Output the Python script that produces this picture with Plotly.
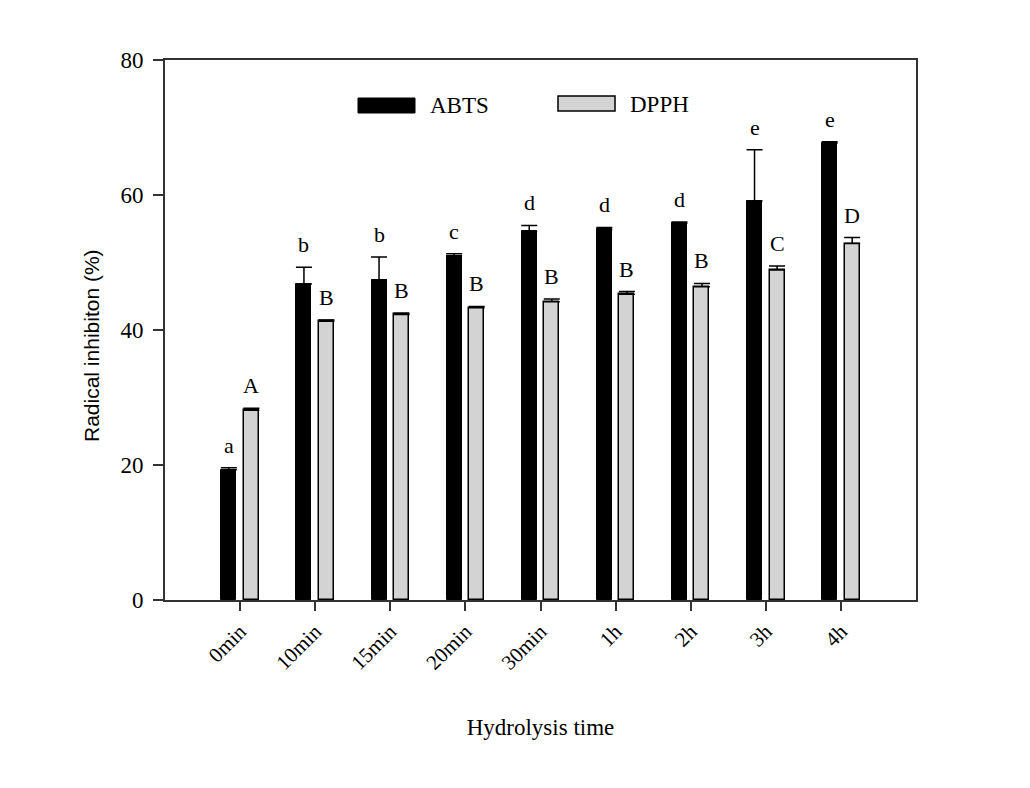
import plotly.graph_objects as go

categories = ["0min", "10min", "15min", "20min", "30min", "1h", "2h", "3h", "4h"]
abts = [19.3, 46.8, 47.4, 51.0, 54.6, 54.9, 55.8, 59.1, 67.7]
abts_err = [0.3, 2.5, 3.4, 0.3, 0.9, 0.3, 0.2, 7.6, 0.2]
dpph = [28.1, 41.3, 42.3, 43.3, 44.2, 45.3, 46.4, 48.9, 52.8]
dpph_err = [0.3, 0.2, 0.2, 0.2, 0.4, 0.4, 0.5, 0.6, 0.9]
abts_letters = ["a", "b", "b", "c", "d", "d", "d", "e", "e"]
dpph_letters = ["A", "B", "B", "B", "B", "B", "B", "C", "D"]

serif = "Liberation Serif"
sans = "Liberation Sans"

x_idx = list(range(len(categories)))

fig = go.Figure()
fig.add_trace(go.Bar(
    x=x_idx, y=abts, width=0.2, offset=-0.25, name="ABTS",
    marker=dict(color="black", line=dict(color="black", width=1)),
    error_y=dict(type="data", array=abts_err, arrayminus=[0]*len(abts), symmetric=False,
                 color="black", thickness=1.5, width=8),
    showlegend=False,
))
fig.add_trace(go.Bar(
    x=x_idx, y=dpph, width=0.2, offset=0.05, name="DPPH",
    marker=dict(color="#d3d3d3", line=dict(color="black", width=1.5)),
    error_y=dict(type="data", array=dpph_err, arrayminus=[0]*len(dpph), symmetric=False,
                 color="black", thickness=1.5, width=8),
    showlegend=False,
))

annotations = []
for i in x_idx:
    annotations.append(dict(x=i - 0.15, y=abts[i] + abts_err[i], text=abts_letters[i],
                            xref="x", yref="y", showarrow=False, yanchor="bottom",
                            yshift=8, font=dict(family=serif, size=22, color="black")))
    annotations.append(dict(x=i + 0.15, y=dpph[i] + dpph_err[i], text=dpph_letters[i],
                            xref="x", yref="y", showarrow=False, yanchor="bottom",
                            yshift=8, font=dict(family=serif, size=22, color="black")))

# legend (manual)
shapes = [
    dict(type="rect", xref="paper", yref="paper", x0=(358-165)/751, x1=(415-165)/751,
         y0=(600-113)/540, y1=(600-98)/540, fillcolor="black", line=dict(color="black", width=1)),
    dict(type="rect", xref="paper", yref="paper", x0=(558-165)/751, x1=(615-165)/751,
         y0=(600-111)/540, y1=(600-96)/540, fillcolor="#d3d3d3", line=dict(color="black", width=1.5)),
]
annotations.append(dict(x=(428-165)/751, y=(600-106)/540, xref="paper", yref="paper",
                        text="ABTS", showarrow=False, xanchor="left", yanchor="middle",
                        font=dict(family=serif, size=23, color="black")))
annotations.append(dict(x=(628-165)/751, y=(600-104)/540, xref="paper", yref="paper",
                        text="DPPH", showarrow=False, xanchor="left", yanchor="middle",
                        font=dict(family=serif, size=23, color="black")))
# y-axis title
annotations.append(dict(x=(91-165)/751, y=(600-346)/540, xref="paper", yref="paper",
                        text="Radical inhibiton (%)", showarrow=False, textangle=-90,
                        xanchor="center", yanchor="middle",
                        font=dict(family=sans, size=21, color="black")))

fig.update_layout(
    width=1030, height=788,
    margin=dict(l=165, r=114, t=60, b=188),
    plot_bgcolor="white", paper_bgcolor="white",
    bargap=0, barmode="overlay",
    shapes=shapes, annotations=annotations,
    showlegend=False,
)
fig.update_xaxes(
    range=[-1, 9], tickmode="array", tickvals=x_idx, ticktext=categories,
    tickangle=-45, ticks="outside", ticklen=9, tickwidth=1.5, tickcolor="#333",
    showline=True, linecolor="#333", linewidth=2, mirror=True, showgrid=False, zeroline=False,
    tickfont=dict(family=serif, size=21, color="black"),
    title=dict(text="Hydrolysis time", font=dict(family=serif, size=23, color="black"), standoff=45),
)
fig.update_yaxes(
    range=[0, 80], tickmode="array", tickvals=[0, 20, 40, 60, 80],
    ticks="outside", ticklen=10, tickwidth=1.5, tickcolor="#333", ticklabelstandoff=5,
    showline=True, linecolor="#333", linewidth=2, mirror=True, showgrid=False, zeroline=False,
    tickfont=dict(family=serif, size=23, color="black"),
)

fig.write_html("out.html")
